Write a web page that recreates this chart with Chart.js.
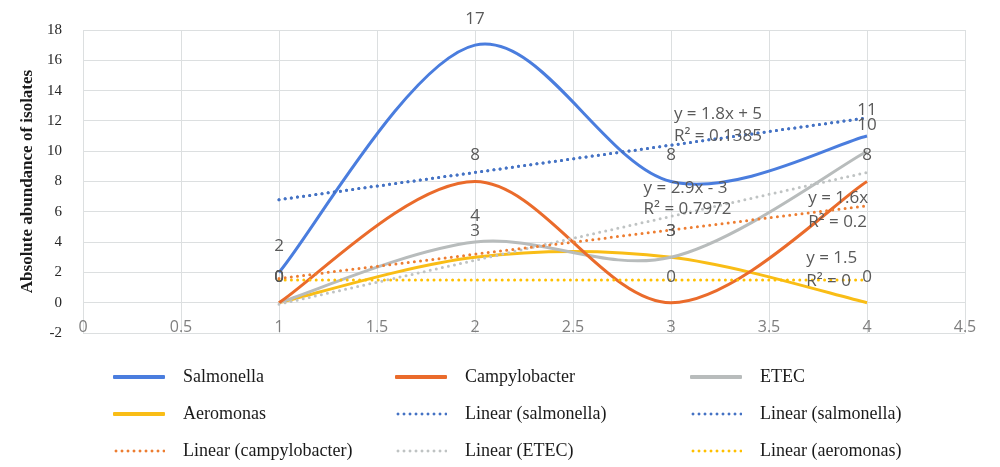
<!DOCTYPE html>
<html>
<head>
<meta charset="utf-8">
<script src="https://cdn.jsdelivr.net/npm/chart.js@4.4.1/dist/chart.umd.min.js"></script>
<style>
  html, body { margin: 0; padding: 0; background: #ffffff; }
  #wrap { position: relative; width: 1000px; height: 467px; overflow: hidden; }
  #chartBox { position: absolute; left: 0; top: 0; width: 1000px; height: 467px; }
  #legend { position: absolute; left: 113px; top: 358px; display: grid;
            grid-template-columns: 282px 295px 240px; grid-auto-rows: 37px;
            font-family: "Liberation Serif", "DejaVu Serif", serif; font-size: 18px; color: #1a1a1a; }
  .item { display: flex; align-items: center; white-space: nowrap; }
  .sample { width: 52px; height: 4px; margin-right: 18px; flex: none; border-radius: 1px; }
</style>
</head>
<body>
<div id="wrap">
  <div id="chartBox"><canvas id="c"></canvas></div>
  <div id="legend"></div>
</div>
<script>
// ---- data ----
const xValues = [1, 2, 3, 4];
const salmonella = [2, 17, 8, 11];
const campylobacter = [0, 8, 0, 8];
const etec = [0, 4, 3, 10];
const aeromonas = [0, 3, 3, 0];

const trendX = [1, 4];
const salmonellaTrend = [6.8, 12.2];
const campylobacterTrend = [1.6, 6.4];
const etecTrend = [-0.1, 8.6];
const aeromonasTrend = [1.5, 1.5];

const xTickValues = [0, 0.5, 1, 1.5, 2, 2.5, 3, 3.5, 4, 4.5];
const yTickValues = [-2, 0, 2, 4, 6, 8, 10, 12, 14, 16, 18];

const seriesNames = ['Salmonella', 'Campylobacter', 'ETEC', 'Aeromonas'];
const trendNames = ['Linear (salmonella)', 'Linear (salmonella)', 'Linear (campylobacter)', 'Linear (ETEC)', 'Linear (aeromonas)'];

const equationTexts = [
  ['y = 1.8x + 5', 'R² = 0.1385'],
  ['y = 2.9x - 3', 'R² = 0.7972'],
  ['y = 1.6x', 'R² = 0.2'],
  ['y = 1.5', 'R² = 0']
];
// anchor positions of equation labels (in data units: x, y of first line, y of second line)
const equationAnchors = [
  [3.015, 12.43, 11.0],
  [2.86, 7.58, 6.15],
  [3.70, 6.87, 5.31],
  [3.69, 2.91, 1.42]
];

// ---- styles ----
const colBlue = '#4A7DDE', colOrange = '#EA6B2B', colGray = '#B8BCBC', colYellow = '#F9BD16';
const trendBlue = '#4472C4', trendOrange = '#ED7D31', trendGray = '#BFC3C3', trendYellow = '#FFC000';

function pts(xs, ys) { return xs.map((x, i) => ({ x: x, y: ys[i] })); }

function seriesDs(label, ys, color) {
  return { label, data: pts(xValues, ys), borderColor: color, backgroundColor: color,
    borderWidth: 3, pointRadius: 0, tension: 0.4, fill: false, showValues: true, smoothExcel: true,
    kind: 'solid', order: 2 };
}
function trendDs(label, ys, color) {
  return { label, data: pts(trendX, ys), borderColor: color, backgroundColor: color,
    borderWidth: 3, pointRadius: 0, tension: 0, fill: false, borderDash: [0, 6.2],
    borderCapStyle: 'round', kind: 'dotted', order: 1 };
}

const datasets = [
  seriesDs(seriesNames[0], salmonella, colBlue),
  seriesDs(seriesNames[1], campylobacter, colOrange),
  seriesDs(seriesNames[2], etec, colGray),
  seriesDs(seriesNames[3], aeromonas, colYellow),
  trendDs(trendNames[0], salmonellaTrend, trendBlue),
  trendDs(trendNames[1], salmonellaTrend, trendBlue),
  trendDs(trendNames[2], campylobacterTrend, trendOrange),
  trendDs(trendNames[3], etecTrend, trendGray),
  trendDs(trendNames[4], aeromonasTrend, trendYellow)
];

const labelFont = '17px "Open Sans", "Liberation Sans", sans-serif';
const labelColor = '#595959';

// Excel-like smoothing (Catmull-Rom style control points) applied to the library's own points
const excelSmooth = {
  id: 'excelSmooth',
  beforeDatasetDraw(chart, args) {
    const ds = chart.data.datasets[args.index];
    if (!ds.smoothExcel) return;
    const meta = args.meta;
    const line = meta.dataset;
    line.updateControlPoints(chart.chartArea, meta.indexAxis || 'x');
    const p = meta.data;
    for (let i = 0; i < p.length; i++) {
      const prev = p[i - 1] || p[i];
      const next = p[i + 1] || p[i];
      const dx = (next.x - prev.x) / 6, dy = (next.y - prev.y) / 6;
      p[i].cp1x = p[i].x - dx; p[i].cp1y = p[i].y - dy;
      p[i].cp2x = p[i].x + dx; p[i].cp2y = p[i].y + dy;
    }
    line._path = undefined;
  }
};

const textPlugin = {
  id: 'textPlugin',
  afterDatasetsDraw(chart) {
    const ctx = chart.ctx;
    ctx.save();
    ctx.font = labelFont;
    ctx.fillStyle = labelColor;
    ctx.textAlign = 'center';
    ctx.textBaseline = 'middle';
    chart.data.datasets.forEach((ds, i) => {
      if (!ds.showValues) return;
      const meta = chart.getDatasetMeta(i);
      meta.data.forEach((el, j) => {
        ctx.fillText(String(ds.data[j].y), el.x, el.y - 26);
      });
    });
    const xs = chart.scales.x, ys = chart.scales.y;
    ctx.textAlign = 'left';
    equationTexts.forEach((lines, k) => {
      const a = equationAnchors[k];
      const px = xs.getPixelForValue(a[0]);
      ctx.fillText(lines[0], px, ys.getPixelForValue(a[1]));
      ctx.fillText(lines[1], px, ys.getPixelForValue(a[2]));
    });
    ctx.restore();
  }
};

const chart = new Chart(document.getElementById('c'), {
  type: 'line',
  data: { datasets },
  options: {
    responsive: true,
    maintainAspectRatio: false,
    animation: false,
    layout: { padding: { left: 0, right: 35, top: 25, bottom: 124 } },
    plugins: { legend: { display: false }, tooltip: { enabled: false } },
    scales: {
      x: {
        type: 'linear', min: 0, max: 4.5,
        afterBuildTicks(s) { s.ticks = xTickValues.map(v => ({ value: v })); },
        afterFit(s) { s.height = 10; },
        grid: { color: '#DCDFE0', lineWidth: 1, drawTicks: false },
        border: { display: false },
        ticks: { mirror: true, padding: -4, maxRotation: 0, autoSkip: false, color: '#7F7F7F',
          font: { family: '"Liberation Sans Narrow", "Open Sans", sans-serif', size: 16 },
          callback: v => String(v) }
      },
      y: {
        min: -2, max: 18,
        afterBuildTicks(s) { s.ticks = yTickValues.map(v => ({ value: v })); },
        afterFit(s) { s.width = 83; },
        grid: { color: '#DCDFE0', drawTicks: false },
        border: { display: false },
        ticks: { padding: 21, color: '#262626',
          font: { family: '"Liberation Serif", "DejaVu Serif", serif', size: 15 },
          callback: v => String(v) },
        title: { display: true, text: 'Absolute abundance of isolates', color: '#1a1a1a',
          padding: { top: 17, bottom: 0 },
          font: { family: '"Liberation Serif", "DejaVu Serif", serif', size: 17, weight: 'bold' } }
      }
    }
  },
  plugins: [excelSmooth, textPlugin]
});

// HTML legend built from the chart's datasets
const legendOrder = [0, 1, 2, 3, 4, 5, 6, 7, 8];
const leg = document.getElementById('legend');
legendOrder.forEach(i => {
  const ds = chart.data.datasets[i];
  const item = document.createElement('div');
  item.className = 'item';
  const s = document.createElement('span');
  s.className = 'sample';
  if (ds.kind === 'dotted') {
    s.style.backgroundImage = 'radial-gradient(circle, ' + ds.borderColor + ' 1.3px, rgba(255,255,255,0) 1.7px)';
    s.style.backgroundSize = '6px 4px';
    s.style.backgroundRepeat = 'repeat-x';
  } else {
    s.style.background = ds.borderColor;
  }
  const t = document.createElement('span');
  t.textContent = ds.label;
  item.appendChild(s);
  item.appendChild(t);
  leg.appendChild(item);
});
</script>
</body>
</html>
